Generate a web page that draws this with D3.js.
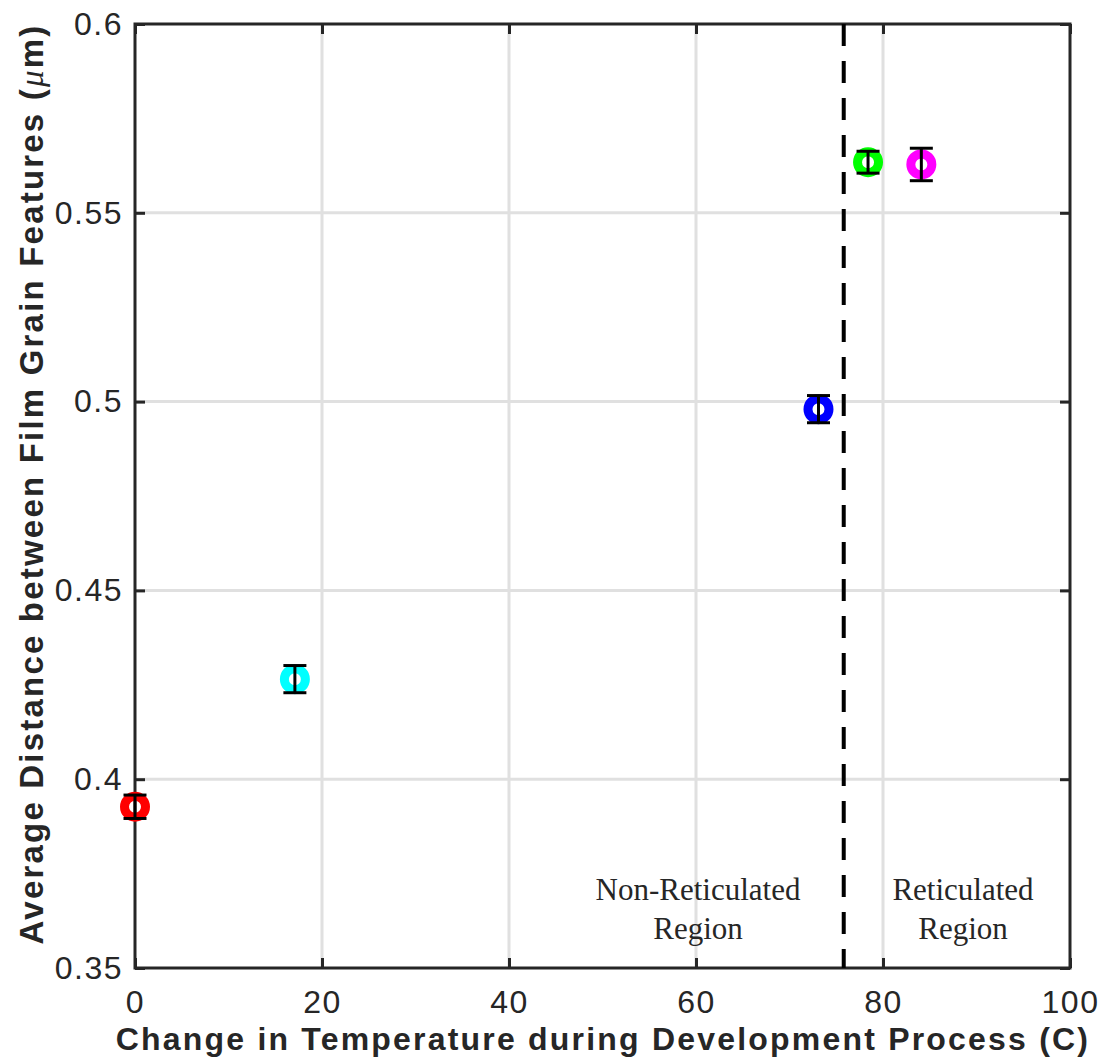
<!DOCTYPE html>
<html>
<head>
<meta charset="utf-8">
<script src="https://cdn.jsdelivr.net/npm/d3@7"></script>
<style>
  body { margin: 0; background: #fff; }
  svg text { fill: #262626; }
</style>
</head>
<body>
<div id="chart"></div>
<script>
// measured values
const tempChange = [0, 17.1, 73.1, 78.4, 84.1];
const avgDistance = [0.3927, 0.4265, 0.498, 0.5634, 0.5628];
const errDistance = [0.0031, 0.0036, 0.0036, 0.0029, 0.0043];
const pointColors = ["#ff0000", "#00ffff", "#0000ff", "#00ff00", "#ff00ff"];
const xTicks = [0, 20, 40, 60, 80, 100];
const yTicks = [0.35, 0.4, 0.45, 0.5, 0.55, 0.6];
const boundaryTemp = 75.8;

const width = 1102;
const height = 1061;
const margin = { top: 24, right: 32, bottom: 93, left: 135 };
const ink = "#262626";
const sans = "'Liberation Sans', Arial, Helvetica, sans-serif";

const svg = d3.select("#chart")
    .append("svg")
    .attr("width", width)
    .attr("height", height);

const xScale = d3.scaleLinear()
    .domain([0, 100])
    .range([margin.left, width - margin.right]);
const yScale = d3.scaleLinear()
    .domain([0.35, 0.6])
    .range([height - margin.bottom, margin.top]);

// grid
svg.append("g")
    .selectAll("line")
    .data(xTicks.slice(1, -1))
    .enter()
    .append("line")
    .attr("x1", d => xScale(d)).attr("x2", d => xScale(d))
    .attr("y1", margin.top).attr("y2", height - margin.bottom)
    .attr("stroke", "#e0e0e0").attr("stroke-width", 3);
svg.append("g")
    .selectAll("line")
    .data(yTicks.slice(1, -1))
    .enter()
    .append("line")
    .attr("y1", d => yScale(d)).attr("y2", d => yScale(d))
    .attr("x1", margin.left).attr("x2", width - margin.right)
    .attr("stroke", "#e0e0e0").attr("stroke-width", 3);

// axes (ticks inward, box on)
const tickLen = 10;
function styleAxis(g) {
    g.select(".domain").remove();
    g.selectAll(".tick line").attr("stroke", ink).attr("stroke-width", 3);
    g.selectAll(".tick text")
        .attr("font-family", sans)
        .attr("font-size", 32)
        .attr("letter-spacing", 1.5)
        .style("fill", ink);
}
svg.append("g")
    .attr("transform", "translate(0," + (height - margin.bottom) + ")")
    .call(d3.axisBottom(xScale).tickValues(xTicks).tickSize(-tickLen).tickPadding(22).tickFormat(d3.format("d")))
    .call(styleAxis);
svg.append("g")
    .attr("transform", "translate(0," + margin.top + ")")
    .call(d3.axisTop(xScale).tickValues(xTicks).tickSize(-tickLen).tickFormat(""))
    .call(styleAxis);
svg.append("g")
    .attr("transform", "translate(" + margin.left + ",0)")
    .call(d3.axisLeft(yScale).tickValues(yTicks).tickSize(-tickLen).tickPadding(12).tickFormat(d => d3.format("")(+d.toFixed(2))))
    .call(styleAxis);
svg.append("g")
    .attr("transform", "translate(" + (width - margin.right) + ",0)")
    .call(d3.axisRight(yScale).tickValues(yTicks).tickSize(-tickLen).tickFormat(""))
    .call(styleAxis);

svg.append("rect")
    .attr("x", margin.left).attr("y", margin.top)
    .attr("width", width - margin.left - margin.right)
    .attr("height", height - margin.top - margin.bottom)
    .attr("fill", "none").attr("stroke", ink).attr("stroke-width", 3);

// boundary line
svg.append("line")
    .attr("x1", xScale(boundaryTemp)).attr("x2", xScale(boundaryTemp))
    .attr("y1", yScale(0.6)).attr("y2", yScale(0.35))
    .attr("stroke", "#000").attr("stroke-width", 4)
    .attr("stroke-dasharray", "22,15");

// points
const data = tempChange.map((t, i) => ({ t: t, v: avgDistance[i], e: errDistance[i], c: pointColors[i] }));

svg.selectAll("circle.dot")
    .data(data)
    .enter()
    .append("circle")
    .attr("class", "dot")
    .attr("cx", d => xScale(d.t))
    .attr("cy", d => yScale(d.v))
    .attr("r", 10.5)
    .attr("fill", "none")
    .attr("stroke", d => d.c)
    .attr("stroke-width", 9);

const capW = 11.5;
const bars = svg.selectAll("g.err")
    .data(data)
    .enter()
    .append("g")
    .attr("class", "err")
    .attr("stroke", "#000")
    .attr("stroke-width", 3);
bars.append("line")
    .attr("x1", d => xScale(d.t)).attr("x2", d => xScale(d.t))
    .attr("y1", d => yScale(d.v - d.e)).attr("y2", d => yScale(d.v + d.e));
bars.append("line")
    .attr("x1", d => xScale(d.t) - capW).attr("x2", d => xScale(d.t) + capW)
    .attr("y1", d => yScale(d.v + d.e)).attr("y2", d => yScale(d.v + d.e));
bars.append("line")
    .attr("x1", d => xScale(d.t) - capW).attr("x2", d => xScale(d.t) + capW)
    .attr("y1", d => yScale(d.v - d.e)).attr("y2", d => yScale(d.v - d.e));

// region notes
const noteFont = "'Liberation Serif', 'Times New Roman', serif";
function note(x, lines) {
    const t = svg.append("text")
        .attr("font-family", noteFont)
        .attr("font-size", 31)
        .attr("text-anchor", "middle");
    lines.forEach((s, i) => {
        t.append("tspan").attr("x", x).attr("y", 900 + i * 39).text(s);
    });
}
note(698, ["Non-Reticulated", "Region"]);
note(963, ["Reticulated", "Region"]);

// axis labels
svg.append("text")
    .attr("x", 603)
    .attr("y", 1050)
    .attr("text-anchor", "middle")
    .attr("font-family", sans)
    .attr("font-weight", "bold")
    .attr("font-size", 32)
    .attr("letter-spacing", 2.2)
    .text("Change in Temperature during Development Process (C)");

const yl = svg.append("text")
    .attr("transform", "translate(43,484) rotate(-90)")
    .attr("text-anchor", "middle")
    .attr("font-family", sans)
    .attr("font-weight", "bold")
    .attr("font-size", 33)
    .attr("letter-spacing", 2.2);
yl.append("tspan").text("Average Distance between Film Grain Features (");
yl.append("tspan").attr("font-family", "'Liberation Serif', serif").attr("font-style", "italic").attr("font-weight", "normal").text("\u03bc");
yl.append("tspan").text("m)");
</script>
</body>
</html>
